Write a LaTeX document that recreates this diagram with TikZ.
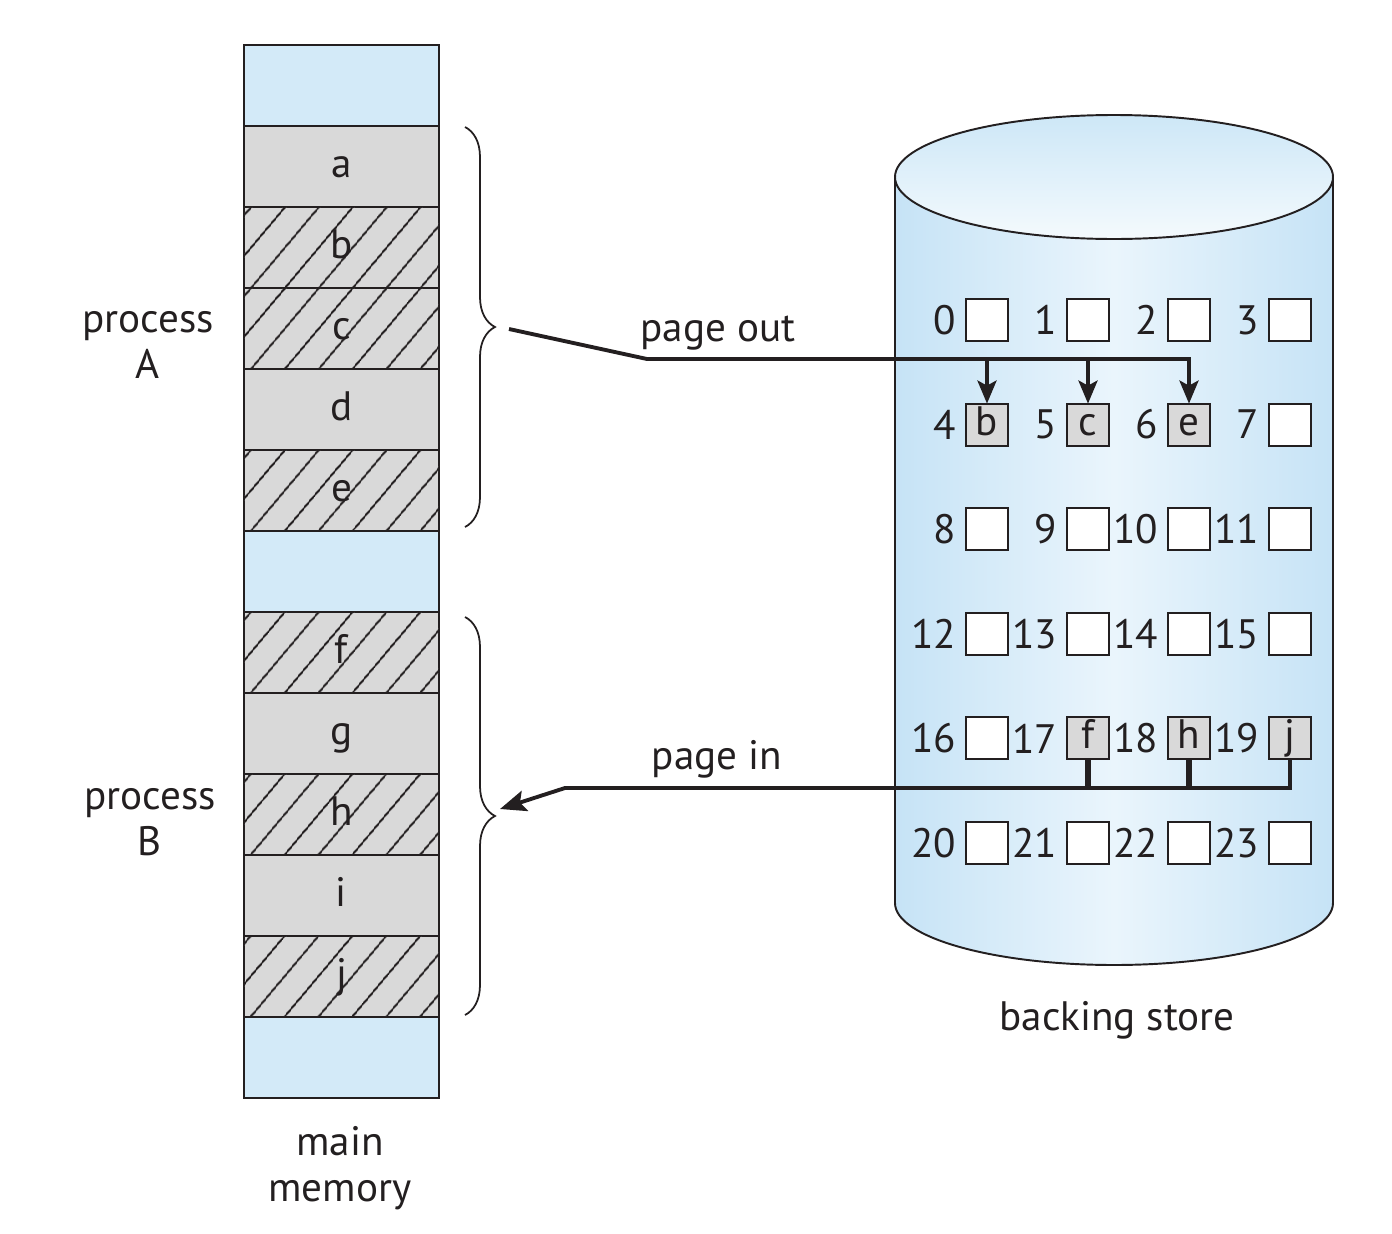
\documentclass[tikz,border=0pt]{standalone}
\usepackage{fontspec}
\setmainfont{PT Sans}
\usetikzlibrary{arrows.meta,patterns.meta,decorations.pathreplacing}
\definecolor{memblue}{HTML}{D3EAF8}
\definecolor{cellgray}{HTML}{D9D9D9}
\definecolor{cylside}{HTML}{C6E3F6}
\definecolor{cylmid}{HTML}{EAF5FC}
\definecolor{cyltop}{HTML}{CDE7F7}
\definecolor{cylbot}{HTML}{F4FAFD}
\definecolor{inkgray}{HTML}{231F20}
\tikzset{
	txt/.style={font=\fontsize{11.7}{13}\selectfont, text=inkgray},
	cell/.style={draw=inkgray, line width=.55pt, minimum width=19.5mm, minimum height=8.1mm,
		inner sep=0pt, outer sep=0pt, text height=7pt, text depth=1pt, txt},
	freecell/.style={cell, fill=memblue},
	pagecell/.style={cell, fill=cellgray},
	hatchcell/.style={pagecell, postaction={pattern={Lines[angle=50,distance=7.4pt,line width=.6pt]}, pattern color=inkgray}},
	slot/.style={draw=inkgray, line width=.55pt, fill=white, minimum size=4.2mm,
		inner sep=0pt, outer sep=0pt, text height=7pt, text depth=1pt, txt},
	fullslot/.style={slot, fill=cellgray},
	slotnum/.style={txt, anchor=east, inner sep=0pt, xshift=-.9mm},
	link/.style={line width=1.1pt, draw=inkgray},
	stem/.style={line width=1.6pt, draw=inkgray},
	pagebrace/.style={decorate, decoration={brace, amplitude=3mm}, line width=.5pt, draw=inkgray},
}
\begin{document}
\begin{tikzpicture}[x=0.1mm, y=-0.1mm]
	\useasboundingbox (0,0) rectangle (1392,1234);

	% main memory
	\foreach \i/\t/\s in {0//freecell,1/a/pagecell,2/b/hatchcell,3/c/hatchcell,4/d/pagecell,
		5/e/hatchcell,6//freecell,7/f/hatchcell,8/g/pagecell,9/h/hatchcell,10/i/pagecell,
		11/j/hatchcell,12//freecell}
		\node[\s] (m\i) at (341.5, {85.5+81*\i}) {\t};

	\node[txt, align=center] (mainmem) at (340,1168) {main\\memory};
	\node[txt, align=center] (procA) at (148,345) {process\\A};
	\node[txt, align=center] (procB) at (150,822) {process\\B};

	\coordinate (abrtop) at (465,127);
	\coordinate (abrbot) at (465,527);
	\coordinate (bbrtop) at (465,617);
	\coordinate (bbrbot) at (465,1015);
	\draw[pagebrace] (abrtop) to (abrbot);
	\draw[pagebrace] (bbrtop) to (bbrbot);

	% backing store
	\fill[left color=cylside, right color=cylside, middle color=cylmid]
		(895,177) -- (895,903) arc[start angle=180, end angle=360, x radius=21.9mm, y radius=6.2mm]
		-- (1333,177) -- cycle;
	\draw[line width=.55pt, draw=inkgray]
		(895,177) -- (895,903) arc[start angle=180, end angle=360, x radius=21.9mm, y radius=6.2mm]
		-- (1333,177);
	\draw[line width=.55pt, draw=inkgray, top color=cyltop, bottom color=cylbot]
		(1114,177) ellipse[x radius=21.9mm, y radius=6.2mm];
	\node[txt] (bstore) at (1117,1020) {backing store};

	\foreach \n in {0,1,2,3,7,8,9,10,11,12,13,14,15,16,20,21,22,23}{
		\pgfmathtruncatemacro\col{mod(\n,4)}
		\pgfmathtruncatemacro\row{int(\n/4)}
		\node[slot] (s\n) at ({987+101*\col},{320+104.6*\row}) {};
		\node[slotnum] (n\n) at (s\n.west) {\n};
	}
	\foreach \n/\t in {4/b,5/c,6/e,17/f,18/h,19/j}{
		\pgfmathtruncatemacro\col{mod(\n,4)}
		\pgfmathtruncatemacro\row{int(\n/4)}
		\node[fullslot] (s\n) at ({987+101*\col},{320+104.6*\row}) {\t};
		\node[slotnum] (n\n) at (s\n.west) {\n};
	}

	% page out
	\coordinate (outstart) at (509,329);
	\coordinate (outbend) at (647,359);
	\draw[link, -{Stealth[length=2.3mm, width=1.9mm, inset=.5mm]}]
		(outstart) to (outbend) to (outbend -| s6) to (s6.north);
	\foreach \n in {4,5}
		\draw[link, -{Stealth[length=2.3mm, width=1.9mm, inset=.5mm]}] (outbend -| s\n) to (s\n.north);
	\node[txt] (pout) at (718,333) {page out};

	% page in
	\coordinate (inbend) at (565,788);
	\coordinate (inend) at (500,809);
	\foreach \n in {17,18}
		\draw[stem] (s\n.south) to (s\n.south |- inbend);
	\draw[link, -{Stealth[length=2.6mm, width=2.1mm, inset=.5mm]}]
		(s19.south) to (s19.south |- inbend) to (inbend) to (inend);
	\node[txt] (pin) at (717,759) {page in};
\end{tikzpicture}
\end{document}
